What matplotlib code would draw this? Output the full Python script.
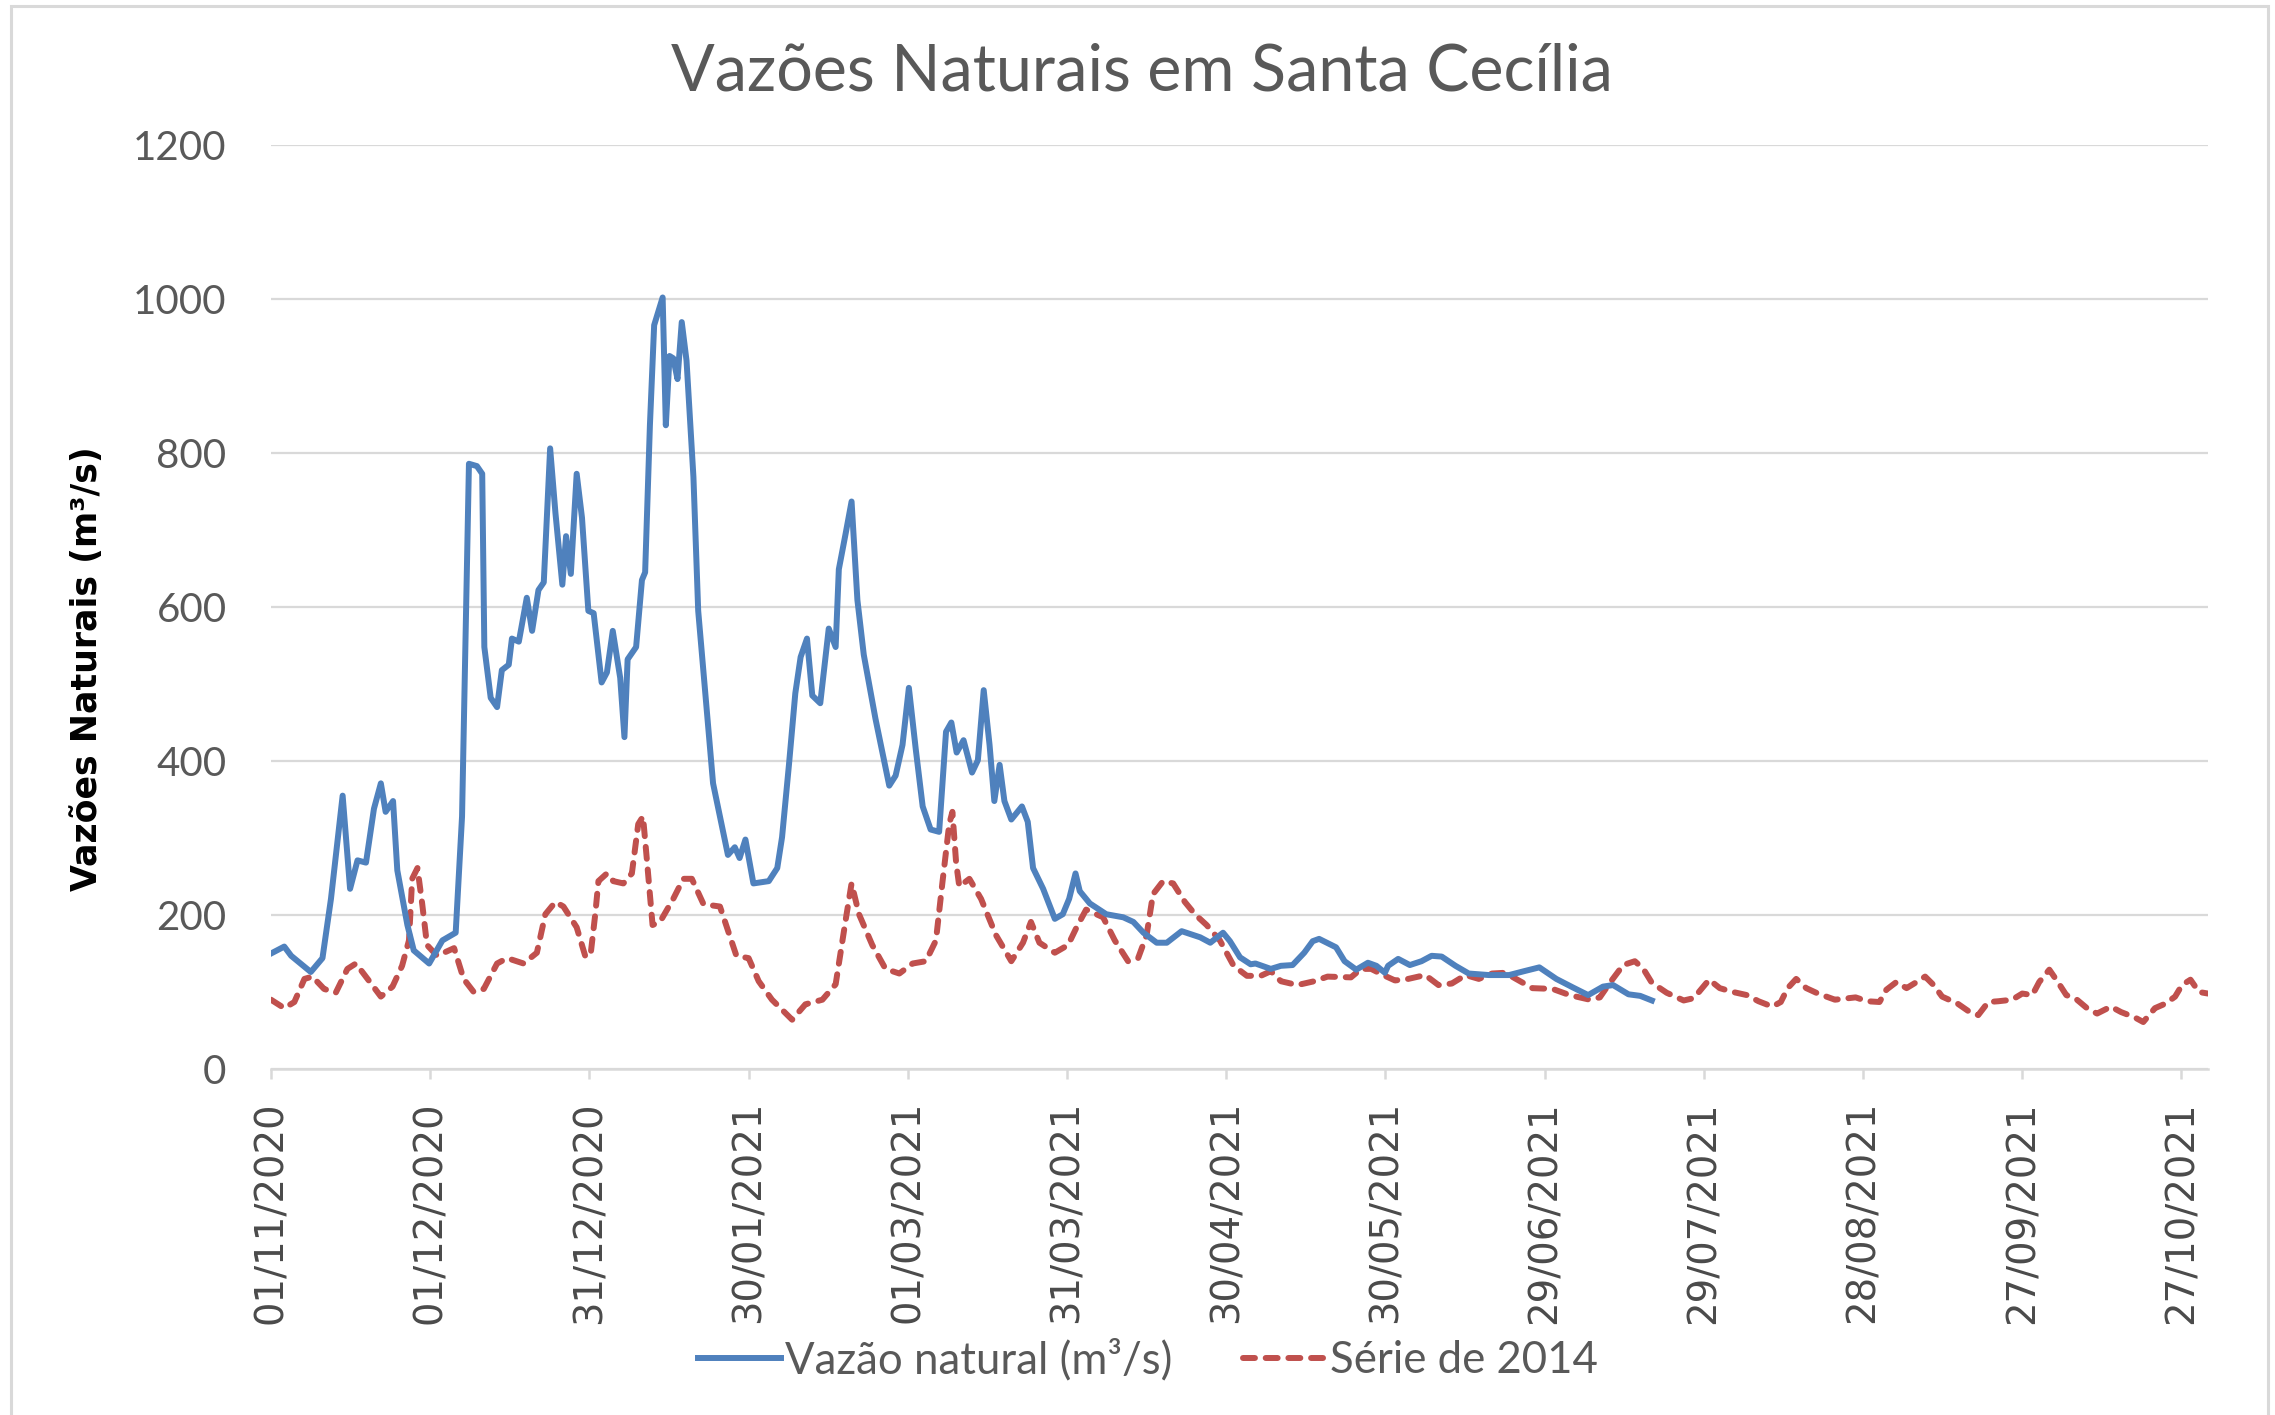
import numpy as np
import matplotlib
matplotlib.use("Agg")
import matplotlib.pyplot as plt
import matplotlib.dates as mdates
from matplotlib.patches import Rectangle
import datetime as dt

# ---------------- data (days since 01/11/2020, m3/s) ----------------
inicio = dt.date(2020, 11, 1)

dias_vazao = [0, 2.5, 3.8, 7.5, 9.7, 11.3, 13.5, 14.9, 16.3, 17.9, 19.4, 20.7, 21.6, 23, 23.8,
              25.7, 26.9, 29.8, 32.3, 34.8, 36, 37.3, 38.8, 39.8, 40.2, 41.4, 42.6, 43.5, 44.8,
              45.4, 46.7, 48.2, 49.2, 50.4, 51.4, 52.6, 53.6, 54.9, 55.6, 56.5, 57.6, 58.6, 59.8,
              60.8, 62.3, 63.3, 64.4, 65.8, 66.6, 67.2, 68.8, 69.9, 70.5, 71.4, 72.2, 73.8, 74.4,
              75.1, 75.8, 76.6, 77.4, 78.3, 79.6, 80.5, 83.3, 84.9, 86.1, 87.4, 88.3, 89.4, 90.9,
              93.8, 95.4, 96.3, 97.6, 98.8, 99.8, 101, 102, 103.5, 105.1, 106.4, 107, 108.3,
              109.4, 110.5, 111.7, 113.9, 116.5, 117.7, 119, 120.2, 121.5, 122.8, 124.3, 125.9,
              127.2, 128.2, 129.2, 130.5, 132.1, 133.2, 134.3, 135.4, 136.3, 137.3, 138.2, 139.5,
              141.5, 142.6, 143.6, 145.5, 147.7, 149.2, 150.4, 151.6, 152.4, 154.3, 157.4, 160.6,
              162.5, 164.4, 166.9, 168.8, 171.6, 175.1, 177, 179.4, 180.7, 182.6, 184.6, 185.5,
              188.4, 190.3, 192.5, 194.7, 196.3, 197.5, 200.7, 202.3, 204.5, 206.7, 208.3, 209.9,
              210.5, 212.4, 214.6, 216.8, 218.7, 220.6, 223.2, 225.7, 229.5, 233.3, 236.1, 239,
              242.2, 245.3, 248.2, 251, 252.9, 255.8, 258, 260.2]
vazao_natural = [150, 159, 147, 126, 144, 221, 355, 234, 271, 268, 338, 371, 334, 348, 258,
                 187, 154, 137, 167, 177, 328, 786, 783, 773, 548, 482, 470, 518, 525,
                 559, 555, 612, 569, 622, 632, 806, 722, 629, 692, 643, 773, 716, 595,
                 592, 502, 515, 569, 508, 431, 532, 548, 635, 645, 836, 966, 1002, 836,
                 926, 923, 896, 970, 920, 769, 595, 371, 318, 278, 288, 274, 298, 241,
                 244, 261, 301, 395, 488, 535, 559, 485, 475, 572, 548, 649, 696,
                 737, 609, 538, 455, 368, 381, 421, 495, 415, 341, 311, 308,
                 438, 450, 411, 427, 385, 401, 492, 421, 348, 395, 348, 324,
                 341, 321, 261, 234, 195, 201, 221, 254, 231, 215, 201, 197,
                 191, 177, 164, 164, 179, 171, 164, 177, 166, 145, 136, 137,
                 130, 134, 135, 151, 166, 169, 158, 140, 129, 138, 134, 125,
                 134, 143, 135, 140, 147, 146, 134, 124, 122, 122, 127, 132,
                 117, 106, 96, 107, 109, 97, 95, 89]

dias_2014 = [0, 2.5, 4.4, 6.3, 7.8, 10, 12.2, 14.4, 16, 18.2, 20.7, 22.9, 24.7, 26, 26.6, 27.6,
             28.5, 29.4, 31.3, 34.5, 36.3, 38.2, 40.1, 42.6, 44.5, 47.6, 50.1, 51.7, 53.6, 55.1,
             57.6, 59.2, 60.2, 61.1, 61.7, 63.3, 64.5, 66.4, 68, 69.2, 70.1, 70.8, 71.9, 73.3,
             75.8, 77.7, 79.3, 81.5, 84.6, 87.7, 90, 91.9, 94.4, 98.2, 100.7, 103.9, 106.4,
             108.3, 109.4, 110.8, 113.3, 115.8, 118.4, 120.9, 123.4, 125.3, 126.5, 127.8, 128.4,
             129.1, 129.7, 131.6, 133.8, 136.6, 139.5, 141.7, 143.2, 144.8, 147.7, 150.2, 151.8,
             153.6, 156.8, 159, 161.5, 163.4, 165, 166.2, 168.1, 170, 172.2, 174.1, 176.3, 178.8,
             181.4, 183.9, 186.5, 188.4, 190.3, 193.4, 196.6, 199.1, 203.5, 205.4, 207.3, 209.9,
             211.8, 214.3, 217.5, 220, 222.5, 225.1, 227.6, 230.1, 232.6, 234.6, 237.7, 241.5,
             244.7, 248.5, 250.4, 252.3, 254.8, 257, 258.6, 260.2, 263, 266.2, 268.1, 271,
             273, 275.5, 278.1, 280.3, 282.9, 284.5, 285.8, 287.4, 289.3, 291.5, 294.7, 298.6,
             300.8, 303.1, 304.4, 306.3, 308.2, 310.1, 311.7, 313.3, 314.9, 317.8, 320.1, 321.7,
             323.6, 325.5, 328.1, 330, 331.9, 333.2, 335.1, 336.7, 338.3, 340.3, 342.2, 344.1,
             346.7, 348.6, 351.2, 352.8, 355, 357, 358.8, 360.1, 361.7, 363.3, 365]
serie_2014 = [90, 79, 87, 117, 120, 104, 99, 130, 137, 117, 94, 107, 134, 167, 247, 261,
              214, 161, 147, 157, 117, 100, 104, 137, 144, 137, 151, 201, 217, 211,
              184, 147, 147, 201, 244, 254, 244, 241, 254, 318, 328, 274, 187, 191,
              221, 247, 247, 214, 211, 147, 144, 114, 90, 64, 84, 90, 110,
              194, 241, 201, 161, 130, 124, 137, 140, 167, 241, 318, 334,
              268, 237, 247, 221, 174, 140, 164, 191, 164, 151, 161, 184,
              207, 197, 167, 140, 144, 174, 227, 244, 241, 217, 201, 187, 167,
              134, 121, 121, 127, 114, 109, 114, 120, 119, 130, 130, 121,
              115, 117, 122, 109, 111, 122, 117, 124, 125, 117, 105, 104,
              96, 90, 93, 112, 135, 140, 130, 112, 99, 89, 92, 116,
              105, 100, 96, 88, 81, 87, 105, 117, 105, 98, 90, 93,
              88, 87, 103, 113, 105, 113, 120, 109, 94, 85, 74, 70,
              87, 88, 90, 98, 96, 113, 129, 113, 96, 90, 79, 72,
              81, 74, 67, 61, 79, 85, 94, 109, 116, 100, 98]

y_ticks = [0, 200, 400, 600, 800, 1000, 1200]
x_tick_days = list(range(0, 361, 30))

titulo = "Vazões Naturais em Santa Cecília"
rotulo_y = "Vazões Naturais (m³/s)"
nome_vazao = "Vazão natural (m³/s)"
nome_2014 = "Série de 2014"

# ---------------- plotting ----------------
def to_dates(days):
    base = dt.datetime(inicio.year, inicio.month, inicio.day)
    return [base + dt.timedelta(days=float(d)) for d in days]

W, H = 2275, 1415
fig = plt.figure(figsize=(W / 100, H / 100), dpi=100)
fig.patch.set_facecolor("white")

# chart border
fig.add_artist(Rectangle((11 / W, -0.01), (2268 - 11) / W, 1.01 - 6 / H,
                         transform=fig.transFigure, fill=False,
                         edgecolor="#d9d9d9", linewidth=2.2))

ax = fig.add_axes([271 / W, 1 - 1069 / H, (2208 - 271) / W, (1069 - 145) / H])

blue = "#4F81BD"
red = "#C0504D"
gray_txt = "#595959"

ax.plot(to_dates(dias_2014), serie_2014, color=red, lw=4.3,
        dashes=(2.0, 1.8), dash_capstyle="round", label=nome_2014, zorder=3)
ax.plot(to_dates(dias_vazao), vazao_natural, color=blue, lw=4.3,
        solid_joinstyle="round", label=nome_vazao, zorder=4)

ax.set_xlim(to_dates([0])[0], to_dates([365])[0])
ax.set_ylim(0, 1200)
ax.set_yticks(y_ticks)
ax.set_xticks(to_dates(x_tick_days))
ax.xaxis.set_major_formatter(mdates.DateFormatter("%d/%m/%Y"))

for s in ["top", "right", "left"]:
    ax.spines[s].set_visible(False)
ax.spines["bottom"].set_color("#d9d9d9")
ax.spines["bottom"].set_linewidth(1.8)

ax.grid(axis="y", color="#d9d9d9", linewidth=1.6)
ax.set_axisbelow(True)

ax.tick_params(axis="y", length=0, pad=32, labelsize=29, labelcolor=gray_txt)
ax.tick_params(axis="x", length=7, width=1.8, color="#d9d9d9", pad=16,
               labelsize=27.8, labelcolor="#4a4a4a", labelrotation=90)
for lab in ax.get_yticklabels():
    lab.set_family(["Lato", "DejaVu Sans"])
for lab in ax.get_xticklabels():
    lab.set_family(["DejaVu Sans"])

fig.text(1142 / W, 1 - 72 / H, titulo, ha="center", va="center",
         fontsize=46.5, color=gray_txt, family=["Lato", "DejaVu Sans"])
fig.text(87 / W, 1 - 669 / H, rotulo_y, ha="center", va="center", rotation=90,
         fontsize=25, color="black", weight="bold", family=["DejaVu Sans"])

h, l = ax.get_legend_handles_labels()
leg = fig.legend([h[1], h[0]], [l[1], l[0]], loc="center",
                 bbox_to_anchor=(1148 / W, 1 - 1360 / H), ncol=2, frameon=False,
                 prop={"family": ["Lato", "DejaVu Sans"], "size": 31.5},
                 handlelength=1.9, handletextpad=0.1, columnspacing=1.6)
for t in leg.get_texts():
    t.set_color(gray_txt)

fig.savefig("out.png", dpi=100, facecolor="white")
